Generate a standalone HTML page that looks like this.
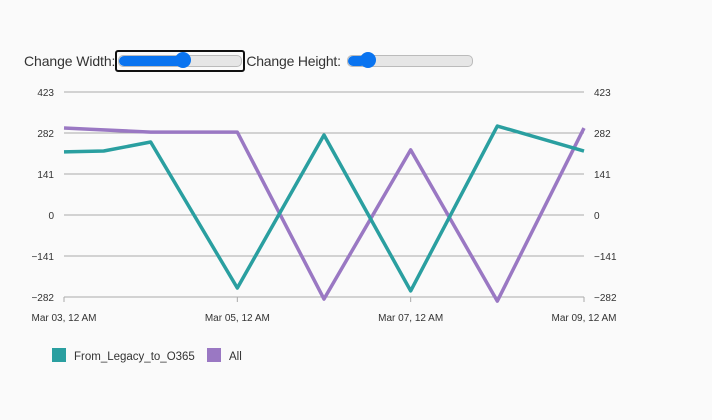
<!DOCTYPE html>
<html><head><meta charset="utf-8"><style>
body{margin:0;background:#fafafa;width:712px;height:420px;overflow:hidden;font-family:"Liberation Sans",sans-serif;}
#ctrl{position:absolute;left:24px;top:50px;font-size:14px;color:#333;display:flex;align-items:center;}
.slider{position:relative;height:10px;border-radius:5px;background:#e6e6e6;border:1px solid #bbb;}
.fill{position:absolute;left:0;top:0;bottom:0;background:#0a74f0;border-radius:5px;}
.knob{position:absolute;top:-4px;width:16px;height:16px;border-radius:50%;background:#0a74f0;}
</style></head><body>
<div id="ctrl">
<span style="letter-spacing:-0.1px">Change Width:</span>
<div style="border:2px solid #111;border-radius:3px;padding:3px 1px;">
<div class="slider" style="width:122px;"><div class="fill" style="width:64px"></div><div class="knob" style="left:56px"></div></div></div>
<span style="margin-left:1px;letter-spacing:-0.2px">Change Height:</span>
<div class="slider" style="width:124px;margin-left:6px;"><div class="fill" style="width:18px"></div><div class="knob" style="left:12px"></div></div>
</div>
<svg id="chart" width="712" height="420" style="position:absolute;left:0;top:0"></svg>
<script>
const yTicks=[423,282,141,0,-141,-282];
const xTickLabels=["Mar 03, 12 AM","Mar 05, 12 AM","Mar 07, 12 AM","Mar 09, 12 AM"];
const xTickHours=[0,48,96,144];
const tealHours=[0,11,24,48,72,96,120,144];
const tealValues=[217,220,251,-251,275,-261,306,220];
const purpleHours=[0,24,48,72,96,120,144];
const purpleValues=[299,285,285,-289,224,-296,299];
const svg=document.getElementById('chart');const NS='http://www.w3.org/2000/svg';
const X0=64,X1=584,Y0=92,Y1=297;
const xs=h=>X0+(X1-X0)*h/144;
const ys=v=>Y0+(Y1-Y0)*(423-v)/(423+282);
function mk(t,a){const e=document.createElementNS(NS,t);for(const k in a)e.setAttribute(k,a[k]);svg.appendChild(e);return e;}
yTicks.forEach(v=>{
 const g=mk('line',{x1:X0,x2:X1,y1:ys(v),y2:ys(v),stroke:'#aaa','stroke-width':1});
 
 
 const lab=v<0?'\u2212'+(-v):''+v;
 const l=mk('text',{x:54,y:ys(v)+4,'text-anchor':'end','font-size':10,fill:'#333'});l.textContent=lab;
 
 
 const r=mk('text',{x:594,y:ys(v)+4,'font-size':10,fill:'#333'});r.textContent=lab;
 
 
});
xTickHours.forEach((h,i)=>{
 const t=mk('line',{x1:xs(h),x2:xs(h),y1:Y1,y2:Y1+5,stroke:'#aaa'});
 
 
 const l=mk('text',{x:xs(h),y:321,'text-anchor':'middle','font-size':10,fill:'#333'});l.textContent=xTickLabels[i];
 
 
});
function series(hours,vals,color,name){
 const p=mk('polyline',{points:hours.map((h,i)=>xs(h)+','+ys(vals[i])).join(' '),fill:'none',stroke:color,'stroke-width':3.5,'stroke-linejoin':'round'});
 
 
}
series(purpleHours,purpleValues,'#9a78c3','series-all');
series(tealHours,tealValues,'#2a9fa0','series-from-legacy-to-o365');
function legend(x,color,text,name){
 const r=mk('rect',{x:x,y:348,width:14,height:14,fill:color});
 
 
 const t=mk('text',{x:x+22,y:360,'font-size':11.5,fill:'#333'});t.textContent=text;
 
 
}
legend(52,'#2a9fa0','From_Legacy_to_O365','legend-teal');
legend(207,'#9a78c3','All','legend-all');
</script>
</body></html>
